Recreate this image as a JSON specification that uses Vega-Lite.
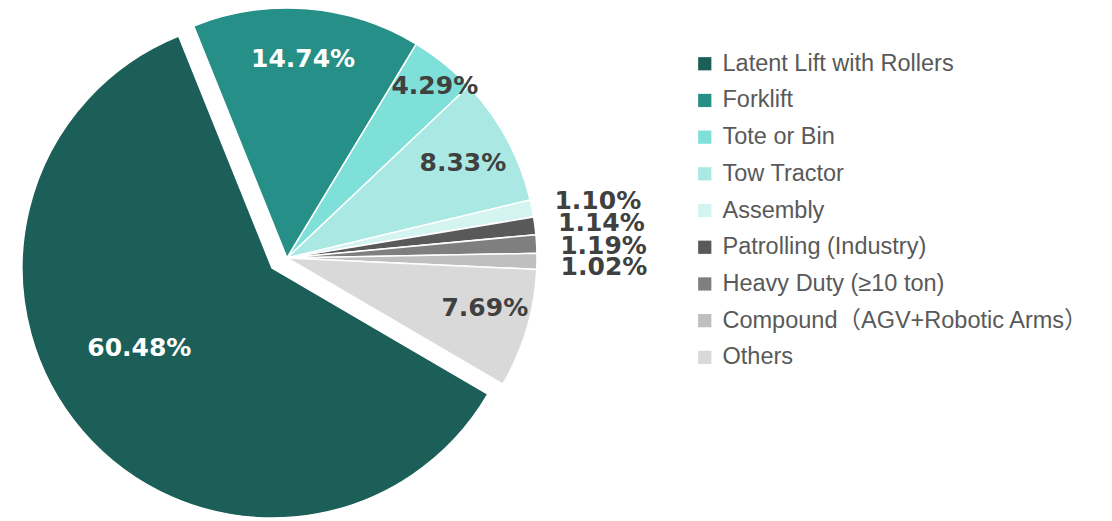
{
  "$schema": "https://vega.github.io/schema/vega-lite/v6.json",
  "width": 574,
  "height": 516,
  "autosize": {"type": "none"},
  "padding": {"left": 0, "top": 0, "right": 538, "bottom": 5},
  "background": "white",
  "config": {"view": {"stroke": null}, "font": "Liberation Sans"},
  "data": {"values": [
    {"category": "Latent Lift with Rollers", "idx": 1, "value": 60.48, "label": "60.48%"},
    {"category": "Forklift", "idx": 2, "value": 14.74, "label": "14.74%"},
    {"category": "Tote or Bin", "idx": 3, "value": 4.29, "label": "4.29%"},
    {"category": "Tow Tractor", "idx": 4, "value": 8.33, "label": "8.33%"},
    {"category": "Assembly", "idx": 5, "value": 1.10, "label": "1.10%"},
    {"category": "Patrolling (Industry)", "idx": 6, "value": 1.14, "label": "1.14%"},
    {"category": "Heavy Duty (≥10 ton)", "idx": 7, "value": 1.19, "label": "1.19%"},
    {"category": "Compound（AGV+Robotic Arms）", "idx": 8, "value": 1.02, "label": "1.02%"},
    {"category": "Others", "idx": 9, "value": 7.69, "label": "7.69%"}
  ]},
  "encoding": {
    "theta": {"field": "value", "type": "quantitative", "stack": true, "scale": {"range": [2.0996, 8.3828]}},
    "order": {"field": "idx", "type": "quantitative"}
  },
  "layer": [
    {
      "mark": {"type": "arc", "outerRadius": 250, "stroke": "white", "strokeWidth": 1.5},
      "encoding": {
        "color": {
          "field": "category", "type": "nominal",
          "sort": ["Latent Lift with Rollers", "Forklift", "Tote or Bin", "Tow Tractor", "Assembly", "Patrolling (Industry)", "Heavy Duty (≥10 ton)", "Compound（AGV+Robotic Arms）", "Others"],
          "scale": {
            "domain": ["Latent Lift with Rollers", "Forklift", "Tote or Bin", "Tow Tractor", "Assembly", "Patrolling (Industry)", "Heavy Duty (≥10 ton)", "Compound（AGV+Robotic Arms）", "Others"],
            "range": ["#1b5f58", "#268f87", "#7fdfd9", "#a9e8e3", "#d3f4f1", "#595959", "#7f7f7f", "#bfbfbf", "#d9d9d9"]
          },
          "legend": {
            "title": null,
            "orient": "none",
            "legendX": 693,
            "legendY": 52,
            "symbolType": "square",
            "symbolSize": 175,
            "symbolStrokeWidth": 0,
            "labelFontSize": 23.5,
            "labelFont": "Liberation Sans, Noto Sans CJK SC",
            "labelColor": "#595959",
            "labelOffset": 6,
            "labelLimit": 500,
            "rowPadding": 11.7
          }
        },
        "opacity": {"condition": {"test": "datum.category === 'Latent Lift with Rollers'", "value": 0}, "value": 1}
      }
    },
    {
      "mark": {"type": "arc", "outerRadius": 250, "stroke": "white", "strokeWidth": 1.5, "xOffset": -15, "yOffset": 10},
      "encoding": {
        "color": {"field": "category", "type": "nominal", "legend": null},
        "opacity": {"condition": {"test": "datum.category === 'Latent Lift with Rollers'", "value": 1}, "value": 0}
      }
    },
    {
      "mark": {"type": "text", "radius": 200, "font": "DejaVu Sans", "fontSize": 25, "fontWeight": "bold", "align": "center", "baseline": "middle"},
      "encoding": {
        "text": {"condition": {"test": "datum.category === 'Forklift' || datum.category === 'Tow Tractor'", "field": "label"}, "value": ""},
        "color": {"condition": {"test": "datum.category === 'Forklift'", "value": "#ffffff"}, "value": "#404040"}
      }
    },
    {
      "mark": {"type": "text", "radius": 200, "font": "DejaVu Sans", "fontSize": 25, "fontWeight": "bold", "align": "center", "baseline": "middle", "xOffset": 6, "yOffset": -7},
      "encoding": {
        "text": {"condition": {"test": "datum.category === 'Others'", "field": "label"}, "value": ""},
        "color": {"value": "#404040"}
      }
    },
    {
      "mark": {"type": "text", "radius": 226, "font": "DejaVu Sans", "fontSize": 25, "fontWeight": "bold", "align": "center", "baseline": "middle", "xOffset": 6, "yOffset": 4},
      "encoding": {
        "text": {"condition": {"test": "datum.category === 'Tote or Bin'", "field": "label"}, "value": ""},
        "color": {"value": "#404040"}
      }
    },
    {
      "mark": {"type": "text", "radius": 312, "font": "DejaVu Sans", "fontSize": 25, "fontWeight": "bold", "align": "center", "baseline": "middle", "xOffset": 5, "yOffset": 5},
      "encoding": {
        "text": {"condition": {"test": "datum.idx >= 5 && datum.idx <= 8", "field": "label"}, "value": ""},
        "color": {"value": "#404040"}
      }
    },
    {
      "mark": {"type": "text", "radius": 170, "font": "DejaVu Sans", "fontSize": 25, "fontWeight": "bold", "align": "center", "baseline": "middle", "xOffset": -19, "yOffset": -21},
      "encoding": {
        "text": {"condition": {"test": "datum.category === 'Latent Lift with Rollers'", "field": "label"}, "value": ""},
        "color": {"value": "#ffffff"}
      }
    }
  ]
}
